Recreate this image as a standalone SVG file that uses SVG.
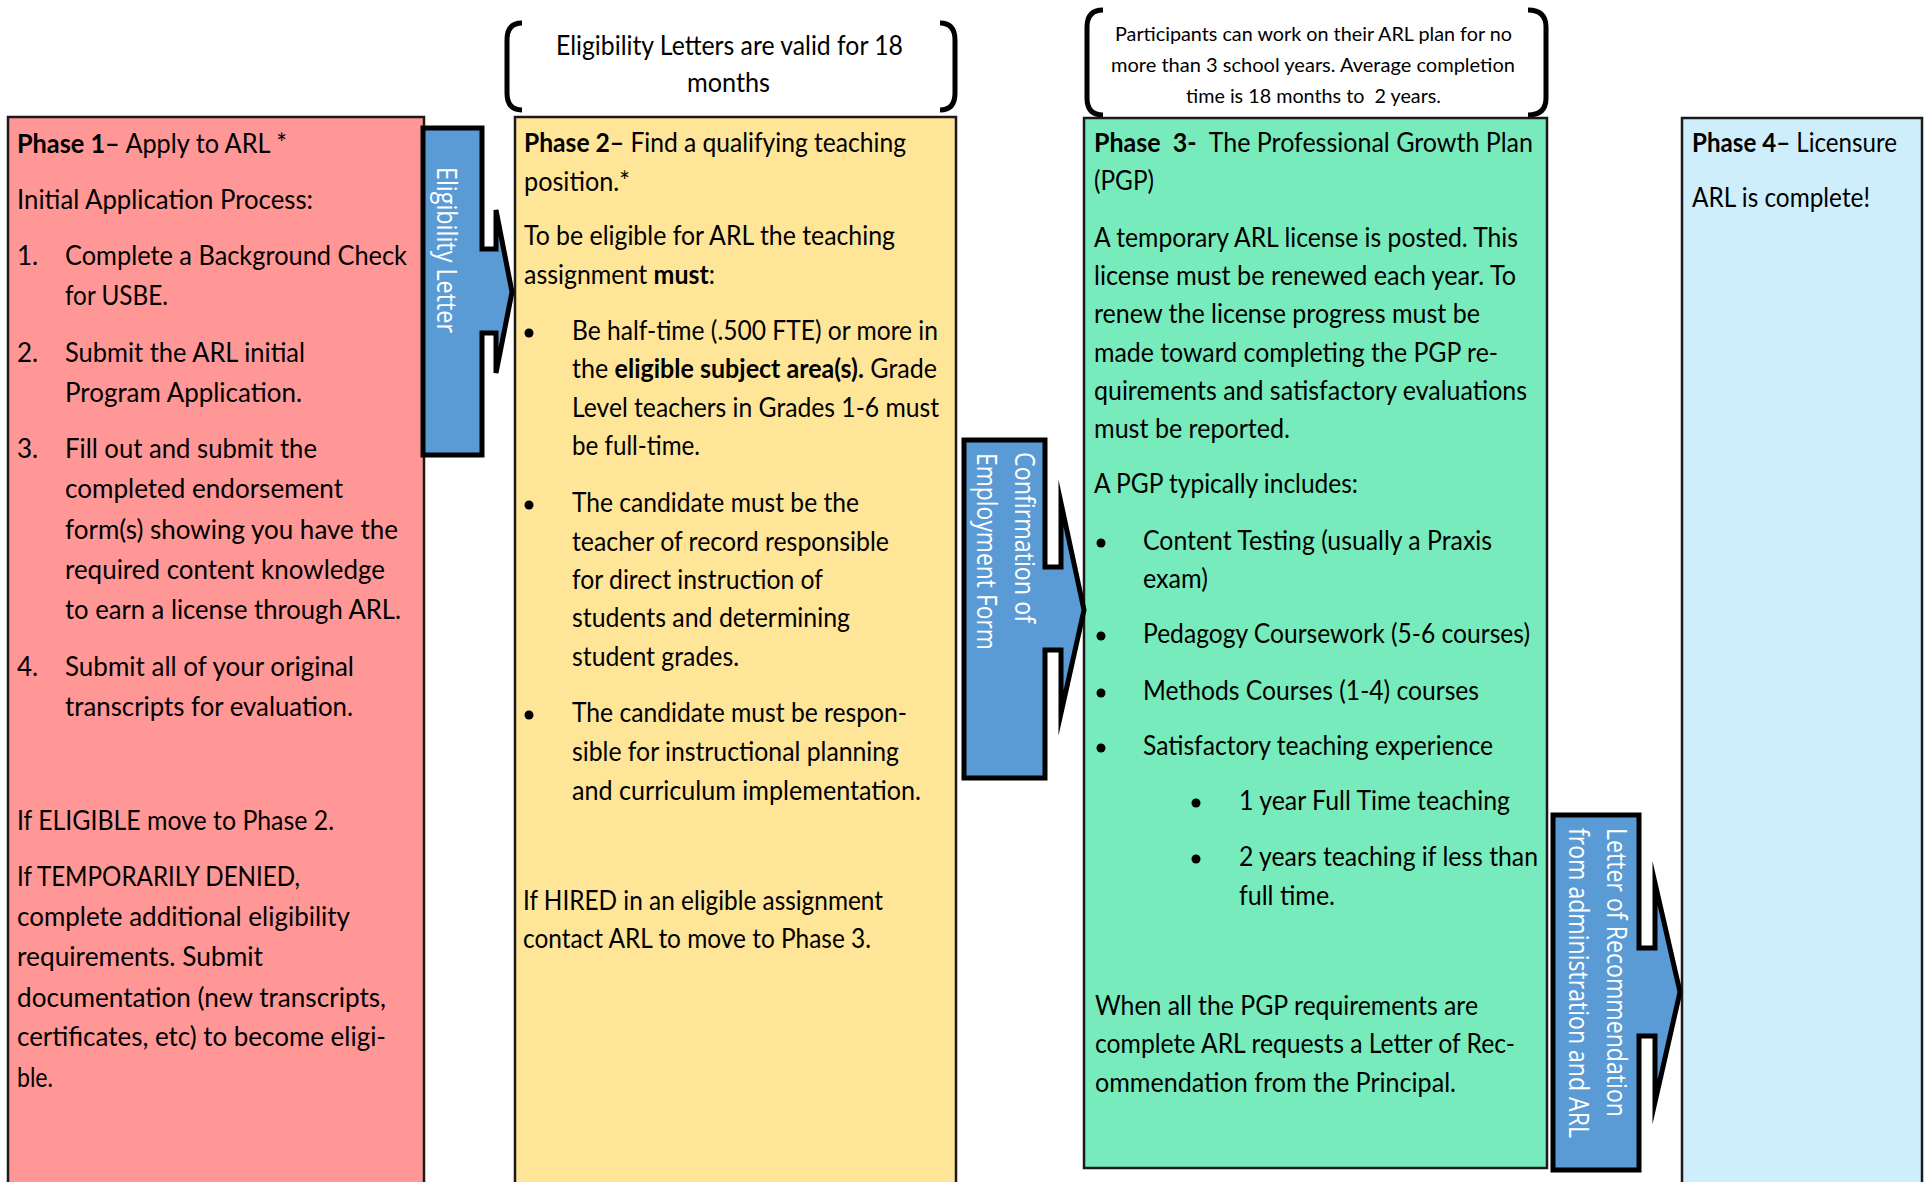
<svg xmlns="http://www.w3.org/2000/svg" width="1929" height="1182" viewBox="0 0 1929 1182">
<style>
.t{font-family:Lato,"Liberation Sans",sans-serif;font-size:26px;fill:#000}
.s{font-family:Lato,"Liberation Sans",sans-serif;font-size:20px;fill:#000}
.b{font-weight:bold}
.lbl{font-family:"Open Sans","Liberation Sans",sans-serif;font-size:27px;fill:#fff}
.box{stroke:#1a1a1a;stroke-width:2.5}
.arr{fill:#5B9BD5;stroke:#000;stroke-width:5;stroke-linejoin:miter;stroke-miterlimit:10}
.brk{fill:none;stroke:#000;stroke-width:5;stroke-linecap:butt}
.dot{fill:#000}
</style>
<rect width="1929" height="1182" fill="#fff"/>

<g id="note-eligibility">
<path class="brk" d="M522,23 Q507,23 507,40 V93 Q507,110 522,110"/>
<path class="brk" d="M940,23 Q955,23 955,40 V93 Q955,110 940,110"/>
<text class="t" x="556" y="55" textLength="347" lengthAdjust="spacingAndGlyphs">Eligibility Letters are valid for 18</text>
<text class="t" x="687" y="92" textLength="83" lengthAdjust="spacingAndGlyphs">months</text>
</g>

<g id="note-duration">
<path class="brk" d="M1103,10 Q1087,10 1087,27 V98 Q1087,115 1103,115"/>
<path class="brk" d="M1528,10 Q1546,10 1546,27 V98 Q1546,115 1528,115"/>
<text class="s" x="1115" y="41" textLength="397" lengthAdjust="spacingAndGlyphs">Participants can work on their ARL plan for no</text>
<text class="s" x="1111" y="72" textLength="404" lengthAdjust="spacingAndGlyphs">more than 3 school years. Average completion</text>
<text class="s" x="1186" y="103" textLength="255" lengthAdjust="spacingAndGlyphs">time is 18 months to&#160; 2 years.</text>
</g>

<g id="phase1">
<rect class="box" x="8" y="117" width="416" height="1090" fill="#FF9797"/>
<text class="t" x="17" y="153" textLength="270" lengthAdjust="spacingAndGlyphs"><tspan class="b">Phase 1–</tspan> Apply to ARL *</text>
<text class="t" x="17" y="209" textLength="296" lengthAdjust="spacingAndGlyphs">Initial Application Process:</text>
<text class="t" x="17" y="265">1.</text>
<text class="t" x="65" y="265" textLength="342" lengthAdjust="spacingAndGlyphs">Complete a Background Check</text>
<text class="t" x="65" y="305" textLength="103" lengthAdjust="spacingAndGlyphs">for USBE.</text>
<text class="t" x="17" y="362">2.</text>
<text class="t" x="65" y="362" textLength="240" lengthAdjust="spacingAndGlyphs">Submit the ARL initial</text>
<text class="t" x="65" y="402" textLength="237" lengthAdjust="spacingAndGlyphs">Program Application.</text>
<text class="t" x="17" y="458">3.</text>
<text class="t" x="65" y="458" textLength="252" lengthAdjust="spacingAndGlyphs">Fill out and submit the</text>
<text class="t" x="65" y="498" textLength="278" lengthAdjust="spacingAndGlyphs">completed endorsement</text>
<text class="t" x="65" y="539" textLength="333" lengthAdjust="spacingAndGlyphs">form(s) showing you have the</text>
<text class="t" x="65" y="579" textLength="320" lengthAdjust="spacingAndGlyphs">required content knowledge</text>
<text class="t" x="65" y="619" textLength="336" lengthAdjust="spacingAndGlyphs">to earn a license through ARL.</text>
<text class="t" x="17" y="676">4.</text>
<text class="t" x="65" y="676" textLength="289" lengthAdjust="spacingAndGlyphs">Submit all of your original</text>
<text class="t" x="65" y="716" textLength="288" lengthAdjust="spacingAndGlyphs">transcripts for evaluation.</text>
<text class="t" x="17" y="830" textLength="317" lengthAdjust="spacingAndGlyphs">If ELIGIBLE move to Phase 2.</text>
<text class="t" x="17" y="886" textLength="283" lengthAdjust="spacingAndGlyphs">If TEMPORARILY DENIED,</text>
<text class="t" x="17" y="926" textLength="333" lengthAdjust="spacingAndGlyphs">complete additional eligibility</text>
<text class="t" x="17" y="966" textLength="246" lengthAdjust="spacingAndGlyphs">requirements. Submit</text>
<text class="t" x="17" y="1007" textLength="369" lengthAdjust="spacingAndGlyphs">documentation (new transcripts,</text>
<text class="t" x="17" y="1046" textLength="369" lengthAdjust="spacingAndGlyphs">certificates, etc) to become eligi-</text>
<text class="t" x="17" y="1087" textLength="36" lengthAdjust="spacingAndGlyphs">ble.</text>
</g>

<g id="phase2">
<rect class="box" x="515" y="117" width="441" height="1090" fill="#FFE598"/>
<text class="t" x="524" y="152" textLength="382" lengthAdjust="spacingAndGlyphs"><tspan class="b">Phase 2–</tspan> Find a qualifying teaching</text>
<text class="t" x="524" y="191" textLength="106" lengthAdjust="spacingAndGlyphs">position.*</text>
<text class="t" x="524" y="245" textLength="371" lengthAdjust="spacingAndGlyphs">To be eligible for ARL the teaching</text>
<text class="t" x="524" y="284" textLength="191" lengthAdjust="spacingAndGlyphs">assignment <tspan class="b">must</tspan>:</text>
<circle class="dot" cx="529" cy="333" r="4.5"/>
<text class="t" x="572" y="340" textLength="366" lengthAdjust="spacingAndGlyphs">Be half-time (.500 FTE) or more in</text>
<text class="t" x="572" y="378" textLength="365" lengthAdjust="spacingAndGlyphs">the <tspan class="b">eligible subject area(s).</tspan> Grade</text>
<text class="t" x="572" y="417" textLength="367" lengthAdjust="spacingAndGlyphs">Level teachers in Grades 1-6 must</text>
<text class="t" x="572" y="455" textLength="128" lengthAdjust="spacingAndGlyphs">be full-time.</text>
<circle class="dot" cx="529" cy="505" r="4.5"/>
<text class="t" x="572" y="512" textLength="287" lengthAdjust="spacingAndGlyphs">The candidate must be the</text>
<text class="t" x="572" y="551" textLength="317" lengthAdjust="spacingAndGlyphs">teacher of record responsible</text>
<text class="t" x="572" y="589" textLength="251" lengthAdjust="spacingAndGlyphs">for direct instruction of</text>
<text class="t" x="572" y="627" textLength="278" lengthAdjust="spacingAndGlyphs">students and determining</text>
<text class="t" x="572" y="666" textLength="167" lengthAdjust="spacingAndGlyphs">student grades.</text>
<circle class="dot" cx="529" cy="715" r="4.5"/>
<text class="t" x="572" y="722" textLength="335" lengthAdjust="spacingAndGlyphs">The candidate must be respon-</text>
<text class="t" x="572" y="761" textLength="327" lengthAdjust="spacingAndGlyphs">sible for instructional planning</text>
<text class="t" x="572" y="800" textLength="349" lengthAdjust="spacingAndGlyphs">and curriculum implementation.</text>
<text class="t" x="523" y="910" textLength="360" lengthAdjust="spacingAndGlyphs">If HIRED in an eligible assignment</text>
<text class="t" x="523" y="948" textLength="348" lengthAdjust="spacingAndGlyphs">contact ARL to move to Phase 3.</text>
</g>

<g id="phase3">
<rect class="box" x="1084" y="118" width="463" height="1050" fill="#78EBBC"/>
<text class="t" x="1094" y="152" textLength="439" lengthAdjust="spacingAndGlyphs"><tspan class="b">Phase&#160; 3-</tspan>&#160; The Professional Growth Plan</text>
<text class="t" x="1094" y="190" textLength="60" lengthAdjust="spacingAndGlyphs">(PGP)</text>
<text class="t" x="1094" y="247" textLength="424" lengthAdjust="spacingAndGlyphs">A temporary ARL license is posted. This</text>
<text class="t" x="1094" y="285" textLength="422" lengthAdjust="spacingAndGlyphs">license must be renewed each year. To</text>
<text class="t" x="1094" y="323" textLength="386" lengthAdjust="spacingAndGlyphs">renew the license progress must be</text>
<text class="t" x="1094" y="362" textLength="404" lengthAdjust="spacingAndGlyphs">made toward completing the PGP re-</text>
<text class="t" x="1094" y="400" textLength="433" lengthAdjust="spacingAndGlyphs">quirements and satisfactory evaluations</text>
<text class="t" x="1094" y="438" textLength="196" lengthAdjust="spacingAndGlyphs">must be reported.</text>
<text class="t" x="1094" y="493" textLength="264" lengthAdjust="spacingAndGlyphs">A PGP typically includes:</text>
<circle class="dot" cx="1101" cy="543" r="4.5"/>
<text class="t" x="1143" y="550" textLength="349" lengthAdjust="spacingAndGlyphs">Content Testing (usually a Praxis</text>
<text class="t" x="1143" y="588" textLength="65" lengthAdjust="spacingAndGlyphs">exam)</text>
<circle class="dot" cx="1101" cy="636" r="4.5"/>
<text class="t" x="1143" y="643" textLength="387" lengthAdjust="spacingAndGlyphs">Pedagogy Coursework (5-6 courses)</text>
<circle class="dot" cx="1101" cy="693" r="4.5"/>
<text class="t" x="1143" y="700" textLength="336" lengthAdjust="spacingAndGlyphs">Methods Courses (1-4) courses</text>
<circle class="dot" cx="1101" cy="748" r="4.5"/>
<text class="t" x="1143" y="755" textLength="350" lengthAdjust="spacingAndGlyphs">Satisfactory teaching experience</text>
<circle class="dot" cx="1196" cy="803" r="4.5"/>
<text class="t" x="1239" y="810" textLength="271" lengthAdjust="spacingAndGlyphs">1 year Full Time teaching</text>
<circle class="dot" cx="1196" cy="859" r="4.5"/>
<text class="t" x="1239" y="866" textLength="299" lengthAdjust="spacingAndGlyphs">2 years teaching if less than</text>
<text class="t" x="1239" y="905" textLength="96" lengthAdjust="spacingAndGlyphs">full time.</text>
<text class="t" x="1095" y="1015" textLength="383" lengthAdjust="spacingAndGlyphs">When all the PGP requirements are</text>
<text class="t" x="1095" y="1053" textLength="420" lengthAdjust="spacingAndGlyphs">complete ARL requests a Letter of Rec-</text>
<text class="t" x="1095" y="1092" textLength="361" lengthAdjust="spacingAndGlyphs">ommendation from the Principal.</text>
</g>

<g id="phase4">
<rect class="box" x="1682" y="118" width="240" height="1090" fill="#CFEEFB"/>
<text class="t" x="1692" y="152" textLength="205" lengthAdjust="spacingAndGlyphs"><tspan class="b">Phase 4–</tspan> Licensure</text>
<text class="t" x="1692" y="207" textLength="178" lengthAdjust="spacingAndGlyphs">ARL is complete!</text>
</g>

<g id="connectors">
<g id="arrow-eligibility">
<path class="arr" d="M423,128 H482 V249 H496 V210 L512,292 L496,373 V333 H482 V455 H423 Z"/>
<text class="lbl" transform="translate(437,167) rotate(90)" textLength="166" lengthAdjust="spacingAndGlyphs">Eligibility Letter</text>
</g>
<g id="arrow-employment">
<path class="arr" d="M964,440 H1045 V567 H1061 V503 L1084,610 L1061,713 V650 H1045 V778 H964 Z"/>
<text class="lbl" transform="translate(1015,452) rotate(90)" textLength="171" lengthAdjust="spacingAndGlyphs">Confirmation of</text>
<text class="lbl" transform="translate(977,453) rotate(90)" textLength="197" lengthAdjust="spacingAndGlyphs">Employment Form</text>
</g>
<g id="arrow-recommendation">
<path class="arr" d="M1553,815 H1639 V948 H1655 V883 L1680,992 L1655,1102 V1036 H1639 V1170 H1553 Z"/>
<text class="lbl" transform="translate(1607,828) rotate(90)" textLength="289" lengthAdjust="spacingAndGlyphs">Letter of Recommendation</text>
<text class="lbl" transform="translate(1569,828) rotate(90)" textLength="310" lengthAdjust="spacingAndGlyphs">from administration and ARL</text>
</g>
</g>
</svg>
